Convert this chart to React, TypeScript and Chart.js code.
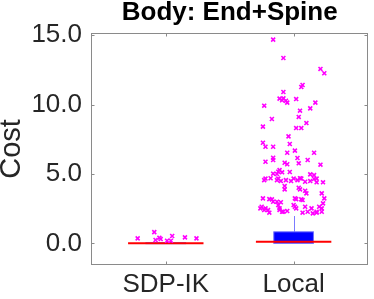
import React, { useEffect, useRef } from 'react';
import { Chart, registerables } from 'chart.js';

Chart.register(...registerables);

const categories = ['SDP-IK', 'Local'];
const yTicks = [0, 5, 10, 15];
const titleText = 'Body: End+Spine';
const yLabel = 'Cost';

// box statistics per category
const boxQ1 = [0.0, 0.0];
const boxMedian = [0.0, 0.12];
const boxQ3 = [0.05, 0.83];
const whiskerLow = [0.0, 0.0];
const whiskerHigh = [0.05, 1.97];

// outliers (cost) and their horizontal jitter around the category position
const sdpOutlierCost = [0.36, 0.81, 0.24, 0.40, 0.31, 0.19, 0.19, 0.53, 0.43, 0.36];
const sdpOutlierJitter = [-0.22, -0.09, -0.08, -0.05, -0.04, 0.01, 0.04, 0.05, 0.15, 0.24];

const localOutlierCost = [
  14.68, 13.36, 12.57, 12.26, 11.41, 11.27, 10.91, 10.43, 10.45, 10.31,
  10.28, 10.14, 10.40, 10.14, 9.92, 9.73, 9.56, 9.11, 8.96, 8.67,
  8.41, 8.31, 8.31, 7.71, 7.25, 7.16, 6.96, 6.96, 6.68, 6.53,
  6.53, 6.17, 6.01, 5.88, 6.15, 6.01, 5.81, 5.70, 5.77, 5.67,
  5.28, 5.16, 5.12, 5.00, 5.14, 5.02, 4.97, 4.92, 4.67, 4.67,
  4.67, 4.67, 4.67, 4.56, 4.69, 4.56, 4.49, 4.56, 4.49, 4.56,
  4.69, 4.44, 4.49, 4.64, 4.40, 4.40, 4.13, 3.89, 4.01, 3.89,
  3.79, 3.60, 3.60, 3.24, 3.19, 3.17, 3.00, 3.00, 2.96, 3.19,
  3.17, 3.24, 2.52, 2.64, 2.52, 2.40, 2.76, 2.52, 2.28, 2.33,
  2.76, 2.64, 2.52, 2.64, 2.28, 2.16, 2.28, 2.52, 2.64, 2.21,
  2.40, 2.28, 2.21, 2.52, 2.21, 2.28, 2.88, 3.24, 3.12, 2.40,
];
const localOutlierJitter = [
  -0.16, -0.08, 0.21, 0.24, 0.07, 0.06, -0.08, -0.11, -0.08, -0.09,
  -0.06, -0.05, 0.02, 0.17, -0.23, 0.13, 0.05, 0.04, -0.17, 0.10,
  -0.24, 0.02, 0.06, -0.04, -0.24, -0.03, -0.22, -0.16, 0.01, -0.05,
  0.16, -0.16, -0.16, -0.22, 0.03, 0.11, -0.07, -0.05, 0.04, 0.21,
  -0.11, -0.12, -0.09, -0.13, -0.03, -0.16, 0.13, 0.16, -0.22, -0.12,
  0.00, 0.06, 0.18, -0.23, -0.18, -0.13, -0.10, -0.06, -0.02, 0.03,
  0.05, 0.09, 0.13, 0.16, 0.18, 0.23, -0.07, -0.07, 0.04, 0.05,
  0.09, 0.10, 0.22, -0.24, -0.19, -0.17, -0.16, -0.13, -0.10, 0.02,
  0.06, 0.24, -0.26, -0.25, -0.22, -0.20, -0.12, -0.11, -0.09, -0.05,
  0.00, 0.01, 0.02, 0.09, 0.11, 0.15, 0.18, 0.22, 0.20, -0.19,
  -0.11, -0.08, 0.07, 0.14, 0.18, 0.22, 0.23, 0.01, 0.07, -0.23,
];

const BOX_HALF = 0.155;
const MEDIAN_HALF = 0.295;
const FONT = "'Liberation Sans', Arial, Helvetica, sans-serif";

const boxPlugin = {
  id: 'matlabBoxes',
  beforeDatasetsDraw(chart: any) {
    const { ctx, scales } = chart;
    const x = scales.x;
    const y = scales.y;
    ctx.save();
    categories.forEach((_, i) => {
      const c = i + 1;
      const xc = Math.round(x.getPixelForValue(c)) + 0.5;
      const xl = x.getPixelForValue(c - BOX_HALF);
      const xr = x.getPixelForValue(c + BOX_HALF);
      // whiskers
      ctx.strokeStyle = '#7b7bff';
      ctx.lineWidth = 1;
      ctx.beginPath();
      ctx.moveTo(xc, y.getPixelForValue(boxQ3[i]));
      ctx.lineTo(xc, y.getPixelForValue(whiskerHigh[i]));
      ctx.moveTo(xc, y.getPixelForValue(boxQ1[i]));
      ctx.lineTo(xc, y.getPixelForValue(whiskerLow[i]));
      ctx.stroke();
      // box
      const yt = y.getPixelForValue(boxQ3[i]);
      const yb = y.getPixelForValue(boxQ1[i]);
      ctx.fillStyle = i === 0 ? '#8a8aff' : '#0000ff';
      ctx.fillRect(xl, yt, xr - xl, Math.max(1, yb - yt));
      ctx.strokeStyle = '#6f6fff';
      ctx.strokeRect(xl, yt, xr - xl, Math.max(1, yb - yt));
      // median
      ctx.strokeStyle = '#ff0000';
      ctx.lineWidth = 2;
      ctx.beginPath();
      const ym = y.getPixelForValue(boxMedian[i]);
      ctx.moveTo(x.getPixelForValue(c - MEDIAN_HALF), ym);
      ctx.lineTo(x.getPixelForValue(c + MEDIAN_HALF), ym);
      ctx.stroke();
    });
    ctx.restore();
  },
  afterDraw(chart: any) {
    const { ctx, chartArea, scales } = chart;
    const { left, right, top, bottom } = chartArea;
    ctx.save();
    ctx.strokeStyle = '#8a8a8a';
    ctx.lineWidth = 1;
    const L = Math.round(left) + 0.5;
    const R = Math.round(right) - 0.5;
    const T = Math.round(top) + 0.5;
    const B = Math.round(bottom) - 0.5;
    ctx.strokeRect(L, T, R - L, B - T);
    ctx.beginPath();
    yTicks.forEach((v) => {
      const py = Math.round(scales.y.getPixelForValue(v)) + 0.5;
      ctx.moveTo(L, py);
      ctx.lineTo(L + 3, py);
      ctx.moveTo(R, py);
      ctx.lineTo(R - 3, py);
    });
    categories.forEach((_, i) => {
      const px = Math.round(scales.x.getPixelForValue(i + 1)) + 0.5;
      ctx.moveTo(px, B);
      ctx.lineTo(px, B - 3);
      ctx.moveTo(px, T);
      ctx.lineTo(px, T + 3);
    });
    ctx.stroke();
    ctx.restore();
  },
};

export default function App() {
  const ref = useRef<HTMLCanvasElement>(null);

  useEffect(() => {
    if (!ref.current) return;
    Chart.defaults.font.family = FONT;
    const sdpPoints = sdpOutlierCost.map((v, i) => ({ x: 1 + sdpOutlierJitter[i], y: v }));
    const localPoints = localOutlierCost.map((v, i) => ({ x: 2 + localOutlierJitter[i], y: v }));
    const markerStyle = {
      pointStyle: 'crossRot' as const,
      pointRadius: 2.8,
      pointBorderWidth: 1.6,
      borderColor: '#ff00ff',
      backgroundColor: '#ff00ff',
      pointBorderColor: '#ff00ff',
      pointBackgroundColor: '#ff00ff',
    };
    const chart = new Chart(ref.current, {
      type: 'scatter',
      data: {
        datasets: [
          { label: categories[0] + ' outliers', data: sdpPoints, ...markerStyle },
          { label: categories[1] + ' outliers', data: localPoints, ...markerStyle },
        ],
      },
      options: {
        animation: false,
        responsive: false,
        maintainAspectRatio: false,
        layout: { padding: { left: 0, right: 1, top: 0, bottom: 0 } },
        plugins: {
          legend: { display: false },
          tooltip: { enabled: false },
          title: {
            display: true,
            fullSize: false,
            text: titleText,
            color: '#000000',
            font: { family: FONT, size: 26, weight: 'bold', lineHeight: 1 },
            padding: { top: 0, bottom: 7 },
          },
        },
        scales: {
          x: {
            type: 'linear',
            min: 0.415,
            max: 2.585,
            grid: { display: false, drawTicks: false },
            border: { display: false },
            ticks: {
              color: '#262626',
              padding: 4,
              maxRotation: 0,
              autoSkip: false,
              font: { family: FONT, size: 26 },
              callback: (v: any) => categories[Math.round(Number(v)) - 1] ?? '',
            },
            afterBuildTicks: (s: any) => {
              s.ticks = categories.map((_, i) => ({ value: i + 1 }));
            },
            afterFit: (s: any) => {
              s.height = 34;
            },
          },
          y: {
            type: 'linear',
            min: -1.56,
            max: 15.16,
            grid: { display: false, drawTicks: false },
            border: { display: false },
            ticks: {
              color: '#262626',
              padding: 9,
              font: { family: FONT, size: 26 },
              callback: (v: any) => Number(v).toFixed(1),
            },
            afterBuildTicks: (s: any) => {
              s.ticks = yTicks.map((v) => ({ value: v }));
            },
            afterFit: (s: any) => {
              s.width = 91;
            },
            title: {
              display: true,
              text: yLabel,
              color: '#262626',
              font: { family: FONT, size: 29, lineHeight: 0.8 },
              padding: 0,
            },
          },
        },
      },
      plugins: [boxPlugin],
    });
    return () => chart.destroy();
  }, []);

  return (
    <div style={{ position: 'absolute', left: 0, top: 0, width: 374, height: 299 }}>
      <canvas ref={ref} width={374} height={299} style={{ display: 'block', width: 374, height: 299 }} />
    </div>
  );
}
